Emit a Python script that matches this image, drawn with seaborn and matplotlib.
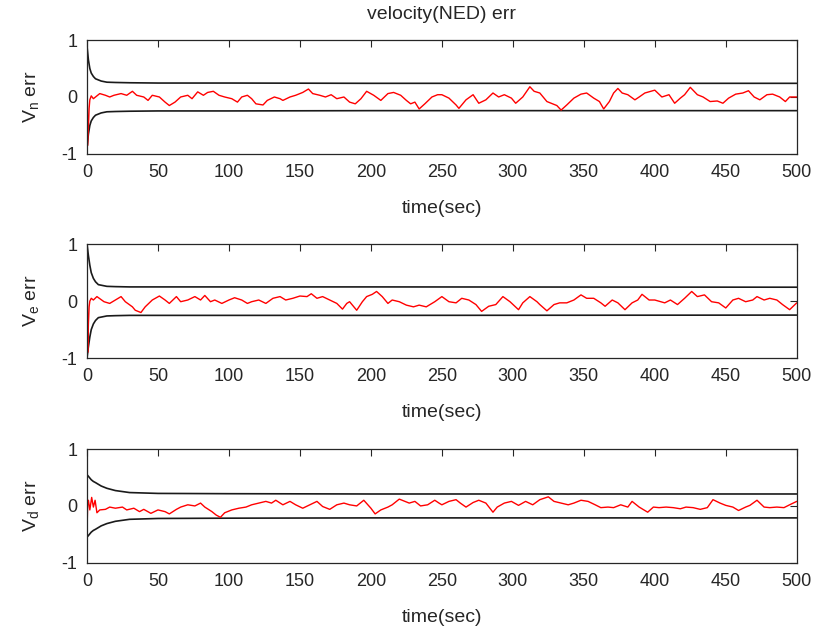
import numpy as np
import matplotlib
matplotlib.use("Agg")
import matplotlib.pyplot as plt
import seaborn as sns

# ================================
# DATA
# ================================

# envelope curves (upper; lower is the mirror image)
bound_t = [0, 1, 2, 3, 4.5, 6, 8, 10, 14, 20, 30, 50, 100, 200, 500]
vn_bound = [0.9, 0.65, 0.5, 0.42, 0.36, 0.32, 0.30, 0.28, 0.26, 0.255, 0.25, 0.245, 0.245, 0.24, 0.24]
ve_bound = [1.0, 0.8, 0.63, 0.5, 0.4, 0.34, 0.29, 0.28, 0.26, 0.255, 0.25, 0.25, 0.25, 0.25, 0.245]
vd_bound = [0.55, 0.52, 0.49, 0.46, 0.43, 0.41, 0.38, 0.35, 0.31, 0.27, 0.235, 0.22, 0.215, 0.21, 0.21]

vn_t = [0, 0.5, 1, 1.5, 2, 3, 4.5, 9, 13, 16,
        19, 24, 28, 32, 35, 40, 43, 46, 51, 55,
        58, 62, 66, 71, 74, 78, 82, 85, 89, 93,
        97, 102, 106, 109, 113, 116, 119, 124, 127, 132,
        136, 138, 143, 147, 152, 156, 159, 164, 168, 172,
        176, 181, 185, 189, 193, 197, 202, 207, 212, 216,
        221, 225, 228, 231, 234, 238, 243, 247, 250, 255,
        260, 262, 267, 272, 276, 281, 286, 290, 294, 299,
        302, 307, 312, 315, 319, 324, 327, 331, 334, 338,
        343, 348, 352, 357, 361, 364, 368, 371, 374, 377,
        381, 386, 389, 393, 400, 405, 410, 414, 418, 421,
        425, 430, 434, 439, 444, 448, 452, 457, 462, 466,
        470, 474, 479, 483, 488, 492, 495, 500]
vn_err = [0.65, -0.85, -0.5, -0.2, -0.05, 0.02, -0.03, 0.06, 0.03, 0.0,
          0.03, 0.06, 0.03, 0.10, 0.03, 0.0, -0.06, 0.03, 0.0, -0.09,
          -0.15, -0.09, 0.0, 0.03, -0.03, 0.09, 0.03, 0.08, 0.10, 0.03,
          0.0, -0.03, -0.09, 0.0, 0.03, -0.03, -0.12, -0.14, -0.06, 0.0,
          -0.03, -0.06, 0.0, 0.03, 0.08, 0.14, 0.06, 0.03, 0.0, 0.04,
          -0.03, 0.0, -0.09, -0.12, -0.03, 0.10, 0.03, -0.06, 0.06, 0.08,
          0.03, -0.06, -0.12, -0.09, -0.21, -0.12, 0.0, 0.04, 0.04, -0.02,
          -0.14, -0.20, -0.05, 0.04, -0.11, -0.05, 0.07, 0.0, 0.04, -0.02,
          -0.11, 0.0, 0.18, 0.10, 0.07, -0.08, -0.11, -0.15, -0.23, -0.14,
          -0.02, 0.05, 0.07, -0.02, -0.08, -0.21, -0.08, 0.07, 0.15, 0.07,
          0.04, -0.05, 0.0, 0.07, 0.12, 0.0, 0.04, -0.11, -0.02, 0.04,
          0.17, 0.04, 0.0, -0.08, -0.07, -0.11, -0.02, 0.05, 0.07, 0.11,
          0.0, -0.05, 0.04, 0.05, 0.0, -0.08, 0.0, 0.0]

ve_t = [0, 0.5, 1, 1.5, 2, 3, 4.5, 7, 12, 16,
        20, 24, 27, 32, 34, 38, 41, 46, 51, 55,
        58, 63, 66, 71, 76, 80, 83, 87, 90, 95,
        100, 104, 109, 113, 116, 121, 126, 131, 136, 140,
        145, 150, 155, 158, 162, 166, 171, 176, 180, 183,
        185, 190, 194, 197, 201, 204, 208, 212, 215, 220,
        225, 230, 234, 239, 245, 250, 255, 260, 264, 269,
        274, 278, 283, 288, 293, 298, 304, 307, 312, 317,
        319, 324, 329, 333, 338, 343, 348, 352, 357, 362,
        365, 370, 374, 379, 384, 388, 391, 396, 400, 407,
        411, 416, 421, 426, 430, 435, 440, 445, 450, 455,
        459, 464, 469, 472, 477, 481, 486, 490, 495, 500]
ve_err = [0.95, -0.9, -0.4, -0.1, 0.0, 0.05, 0.02, 0.08, -0.01, -0.04,
          0.02, 0.08, -0.01, -0.10, -0.16, -0.20, -0.10, 0.02, 0.09, 0.02,
          -0.04, 0.08, -0.01, 0.02, 0.08, 0.02, 0.10, -0.01, 0.02, -0.04,
          0.02, 0.06, 0.02, -0.04, -0.01, 0.02, -0.04, 0.05, 0.08, 0.02,
          0.05, 0.09, 0.08, 0.13, 0.05, 0.08, 0.02, -0.04, -0.14, -0.04,
          -0.01, -0.16, -0.01, 0.08, 0.12, 0.17, 0.08, -0.04, 0.02, -0.01,
          -0.07, -0.10, -0.07, -0.10, -0.01, 0.08, -0.01, -0.03, 0.05, 0.02,
          -0.06, -0.18, -0.09, -0.06, 0.08, -0.01, -0.15, -0.03, 0.08, -0.01,
          -0.06, -0.17, -0.06, -0.03, -0.03, 0.02, 0.11, 0.05, 0.05, -0.03,
          -0.09, 0.02, -0.03, -0.15, -0.03, 0.02, 0.12, 0.02, 0.02, -0.03,
          0.02, -0.06, 0.05, 0.17, 0.08, 0.11, -0.01, -0.03, -0.12, 0.02,
          0.05, -0.01, 0.02, 0.08, 0.02, 0.05, 0.02, -0.06, -0.15, -0.03]

vd_t = [0, 0.5, 1, 2, 3.3, 4.5, 5.7, 7, 9, 13,
        16, 20, 25, 28, 33, 37, 40, 45, 50, 55,
        58, 63, 66, 71, 76, 80, 83, 88, 91, 94,
        97, 102, 107, 112, 116, 121, 126, 130, 133, 138,
        143, 147, 152, 157, 162, 166, 171, 176, 181, 185,
        190, 195, 200, 203, 207, 212, 215, 220, 224, 227,
        231, 235, 240, 245, 248, 250, 255, 260, 263, 267,
        272, 276, 281, 286, 289, 294, 299, 304, 309, 314,
        319, 325, 329, 334, 339, 343, 348, 353, 358, 362,
        367, 371, 376, 381, 384, 389, 395, 399, 403, 408,
        413, 418, 422, 427, 432, 437, 441, 446, 450, 455,
        459, 464, 467, 472, 477, 481, 486, 491, 495, 500]
vd_err = [-0.45, 0.05, 0.1, -0.07, 0.15, -0.02, 0.1, -0.12, -0.07, -0.06,
          -0.02, -0.04, -0.02, -0.07, -0.04, -0.10, -0.06, -0.13, -0.07, -0.10,
          -0.14, -0.06, -0.02, 0.02, 0.0, 0.05, -0.02, -0.10, -0.16, -0.20,
          -0.12, -0.07, -0.04, -0.02, 0.02, 0.05, 0.08, 0.05, 0.10, 0.02,
          0.08, 0.02, -0.04, 0.02, 0.08, -0.01, -0.06, 0.02, 0.05, 0.02,
          0.0, 0.10, -0.04, -0.14, -0.07, -0.02, 0.02, 0.12, 0.08, 0.05,
          0.08, 0.0, 0.02, 0.10, 0.05, 0.02, 0.08, 0.11, 0.05, -0.02,
          0.06, 0.10, 0.05, -0.11, -0.02, 0.05, 0.08, 0.01, 0.08, 0.02,
          0.11, 0.16, 0.08, 0.05, 0.02, 0.05, 0.10, 0.08, 0.02, -0.03,
          -0.02, -0.03, 0.02, -0.02, 0.08, -0.02, -0.11, -0.02, -0.03, -0.02,
          -0.03, -0.05, -0.02, -0.03, -0.06, -0.03, 0.11, 0.05, 0.01, -0.02,
          -0.08, -0.02, 0.01, 0.10, -0.02, -0.03, -0.02, -0.03, 0.02, 0.08]

labels = ["V$_\\mathregular{n}$ err", "V$_\\mathregular{e}$ err", "V$_\\mathregular{d}$ err"]
x_ticks = list(range(0, 501, 50))
y_ticks = [-1, 0, 1]

assert len(vn_t) == len(vn_err)
assert len(ve_t) == len(ve_err)
assert len(vd_t) == len(vd_err)

# ================================
# STYLE
# ================================

sns.set_theme(style="white")
plt.rcParams['font.family'] = ['Liberation Sans', 'DejaVu Sans']
plt.rcParams['mathtext.fontset'] = 'custom'
plt.rcParams['mathtext.rm'] = 'Liberation Sans'
plt.rcParams['axes.unicode_minus'] = False

edge = "#262626"

fig = plt.figure(figsize=(8.13, 6.36), dpi=100)
positions = [
    [0.107, 0.758, 0.873, 0.179],
    [0.107, 0.437, 0.873, 0.179],
    [0.107, 0.115, 0.873, 0.179],
]

series = [
    (vn_t, vn_err, vn_bound),
    (ve_t, ve_err, ve_bound),
    (vd_t, vd_err, vd_bound),
]

for i, (t, err, bnd) in enumerate(series):
    ax = fig.add_axes(positions[i])
    bnd = np.array(bnd)

    sns.lineplot(x=bound_t, y=bnd, ax=ax, color="#1a1a1a", lw=1.2,
                 estimator=None, sort=False)
    sns.lineplot(x=bound_t, y=-bnd, ax=ax, color="#1a1a1a", lw=1.2,
                 estimator=None, sort=False)
    sns.lineplot(x=t, y=err, ax=ax, color="red", lw=1.0,
                 estimator=None, sort=False)

    ax.set_xlim(0, 500)
    ax.set_ylim(-1, 1)
    ax.set_xticks(x_ticks)
    ax.set_yticks(y_ticks)
    ax.tick_params(direction="in", top=True, right=True, length=5,
                   width=0.8, colors=edge, labelsize=13, pad=7)
    for s in ax.spines.values():
        s.set_color(edge)
        s.set_linewidth(0.9)
    ax.set_xlabel("time(sec)", fontsize=14, color=edge, labelpad=14)
    ax.set_ylabel(labels[i], fontsize=14, color=edge, labelpad=14)
    if i == 0:
        ax.set_title("velocity(NED) err", fontsize=14, color=edge, pad=15)

fig.savefig("out.png", dpi=100)
